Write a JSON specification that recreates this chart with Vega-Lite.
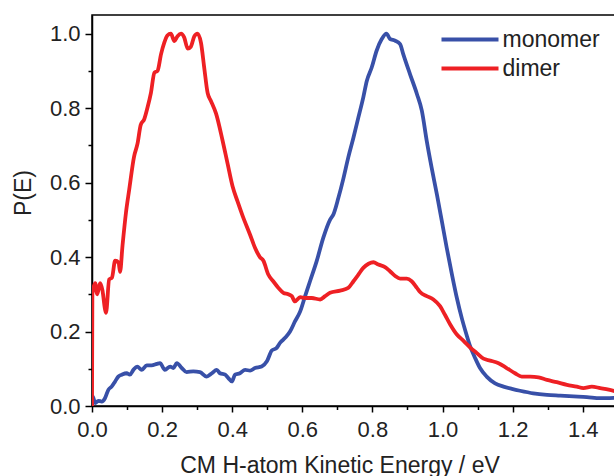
{
  "$schema": "https://vega.github.io/schema/vega-lite/v6.json",
  "width": 524,
  "height": 391,
  "autosize": {"type": "none"},
  "padding": {"left": 92, "top": 15, "right": 0, "bottom": 70},
  "background": "white",
  "config": {
    "font": "Liberation Sans",
    "view": {"stroke": "black", "strokeWidth": 1.5}
  },
  "data": {"values": [
    {"s":"monomer","E":0,"P":0},{"s":"monomer","E":0.002,"P":0.026},{"s":"monomer","E":0.009,"P":0.008},{"s":"monomer","E":0.018,"P":0.014},{"s":"monomer","E":0.028,"P":0.012},{"s":"monomer","E":0.037,"P":0.021},{"s":"monomer","E":0.047,"P":0.044},{"s":"monomer","E":0.056,"P":0.052},{"s":"monomer","E":0.066,"P":0.066},{"s":"monomer","E":0.075,"P":0.079},{"s":"monomer","E":0.085,"P":0.084},{"s":"monomer","E":0.099,"P":0.088},{"s":"monomer","E":0.108,"P":0.084},{"s":"monomer","E":0.118,"P":0.097},{"s":"monomer","E":0.129,"P":0.106},{"s":"monomer","E":0.142,"P":0.097},{"s":"monomer","E":0.156,"P":0.109},{"s":"monomer","E":0.170,"P":0.109},{"s":"monomer","E":0.185,"P":0.113},{"s":"monomer","E":0.194,"P":0.115},{"s":"monomer","E":0.208,"P":0.097},{"s":"monomer","E":0.223,"P":0.106},{"s":"monomer","E":0.232,"P":0.102},{"s":"monomer","E":0.242,"P":0.115},{"s":"monomer","E":0.256,"P":0.102},{"s":"monomer","E":0.270,"P":0.091},{"s":"monomer","E":0.289,"P":0.093},{"s":"monomer","E":0.308,"P":0.091},{"s":"monomer","E":0.327,"P":0.079},{"s":"monomer","E":0.342,"P":0.088},{"s":"monomer","E":0.356,"P":0.097},{"s":"monomer","E":0.365,"P":0.088},{"s":"monomer","E":0.380,"P":0.084},{"s":"monomer","E":0.389,"P":0.075},{"s":"monomer","E":0.399,"P":0.066},{"s":"monomer","E":0.408,"P":0.084},{"s":"monomer","E":0.422,"P":0.088},{"s":"monomer","E":0.437,"P":0.097},{"s":"monomer","E":0.451,"P":0.095},{"s":"monomer","E":0.465,"P":0.102},{"s":"monomer","E":0.484,"P":0.106},{"s":"monomer","E":0.499,"P":0.12},{"s":"monomer","E":0.513,"P":0.149},{"s":"monomer","E":0.527,"P":0.156},{"s":"monomer","E":0.537,"P":0.170},{"s":"monomer","E":0.551,"P":0.183},{"s":"monomer","E":0.565,"P":0.20},{"s":"monomer","E":0.579,"P":0.227},{"s":"monomer","E":0.594,"P":0.254},{"s":"monomer","E":0.608,"P":0.295},{"s":"monomer","E":0.622,"P":0.335},{"s":"monomer","E":0.641,"P":0.389},{"s":"monomer","E":0.660,"P":0.452},{"s":"monomer","E":0.679,"P":0.5},{"s":"monomer","E":0.689,"P":0.515},{"s":"monomer","E":0.703,"P":0.559},{"s":"monomer","E":0.717,"P":0.61},{"s":"monomer","E":0.731,"P":0.667},{"s":"monomer","E":0.746,"P":0.721},{"s":"monomer","E":0.760,"P":0.775},{"s":"monomer","E":0.774,"P":0.829},{"s":"monomer","E":0.784,"P":0.873},{"s":"monomer","E":0.798,"P":0.909},{"s":"monomer","E":0.812,"P":0.954},{"s":"monomer","E":0.827,"P":0.986},{"s":"monomer","E":0.840,"P":1.0},{"s":"monomer","E":0.850,"P":0.986},{"s":"monomer","E":0.865,"P":0.981},{"s":"monomer","E":0.879,"P":0.972},{"s":"monomer","E":0.888,"P":0.945},{"s":"monomer","E":0.907,"P":0.892},{"s":"monomer","E":0.927,"P":0.838},{"s":"monomer","E":0.941,"P":0.793},{"s":"monomer","E":0.955,"P":0.712},{"s":"monomer","E":0.969,"P":0.64},{"s":"monomer","E":0.984,"P":0.568},{"s":"monomer","E":0.998,"P":0.497},{"s":"monomer","E":1.012,"P":0.425},{"s":"monomer","E":1.027,"P":0.353},{"s":"monomer","E":1.041,"P":0.29},{"s":"monomer","E":1.055,"P":0.236},{"s":"monomer","E":1.069,"P":0.19},{"s":"monomer","E":1.079,"P":0.16},{"s":"monomer","E":1.093,"P":0.129},{"s":"monomer","E":1.107,"P":0.102},{"s":"monomer","E":1.126,"P":0.079},{"s":"monomer","E":1.15,"P":0.061},{"s":"monomer","E":1.174,"P":0.052},{"s":"monomer","E":1.198,"P":0.046},{"s":"monomer","E":1.221,"P":0.041},{"s":"monomer","E":1.259,"P":0.034},{"s":"monomer","E":1.298,"P":0.030},{"s":"monomer","E":1.336,"P":0.028},{"s":"monomer","E":1.374,"P":0.026},{"s":"monomer","E":1.412,"P":0.024},{"s":"monomer","E":1.45,"P":0.021},{"s":"monomer","E":1.495,"P":0.022},
    {"s":"dimer","E":0,"P":0},{"s":"dimer","E":0.001,"P":0.30},{"s":"dimer","E":0.009,"P":0.33},{"s":"dimer","E":0.015,"P":0.30},{"s":"dimer","E":0.023,"P":0.33},{"s":"dimer","E":0.030,"P":0.31},{"s":"dimer","E":0.037,"P":0.26},{"s":"dimer","E":0.040,"P":0.25},{"s":"dimer","E":0.049,"P":0.34},{"s":"dimer","E":0.057,"P":0.345},{"s":"dimer","E":0.066,"P":0.39},{"s":"dimer","E":0.076,"P":0.385},{"s":"dimer","E":0.080,"P":0.36},{"s":"dimer","E":0.087,"P":0.43},{"s":"dimer","E":0.097,"P":0.52},{"s":"dimer","E":0.106,"P":0.58},{"s":"dimer","E":0.120,"P":0.67},{"s":"dimer","E":0.130,"P":0.705},{"s":"dimer","E":0.139,"P":0.755},{"s":"dimer","E":0.149,"P":0.77},{"s":"dimer","E":0.158,"P":0.80},{"s":"dimer","E":0.168,"P":0.84},{"s":"dimer","E":0.178,"P":0.895},{"s":"dimer","E":0.187,"P":0.90},{"s":"dimer","E":0.197,"P":0.945},{"s":"dimer","E":0.206,"P":0.975},{"s":"dimer","E":0.215,"P":0.995},{"s":"dimer","E":0.225,"P":1.0},{"s":"dimer","E":0.235,"P":0.98},{"s":"dimer","E":0.244,"P":0.993},{"s":"dimer","E":0.254,"P":1.0},{"s":"dimer","E":0.263,"P":0.99},{"s":"dimer","E":0.273,"P":0.96},{"s":"dimer","E":0.282,"P":0.965},{"s":"dimer","E":0.292,"P":0.993},{"s":"dimer","E":0.301,"P":1.0},{"s":"dimer","E":0.311,"P":0.975},{"s":"dimer","E":0.320,"P":0.91},{"s":"dimer","E":0.330,"P":0.84},{"s":"dimer","E":0.339,"P":0.82},{"s":"dimer","E":0.354,"P":0.785},{"s":"dimer","E":0.372,"P":0.715},{"s":"dimer","E":0.387,"P":0.65},{"s":"dimer","E":0.401,"P":0.59},{"s":"dimer","E":0.415,"P":0.55},{"s":"dimer","E":0.430,"P":0.51},{"s":"dimer","E":0.451,"P":0.46},{"s":"dimer","E":0.465,"P":0.425},{"s":"dimer","E":0.479,"P":0.40},{"s":"dimer","E":0.489,"P":0.39},{"s":"dimer","E":0.503,"P":0.353},{"s":"dimer","E":0.517,"P":0.335},{"s":"dimer","E":0.532,"P":0.317},{"s":"dimer","E":0.546,"P":0.304},{"s":"dimer","E":0.560,"P":0.30},{"s":"dimer","E":0.570,"P":0.295},{"s":"dimer","E":0.579,"P":0.281},{"s":"dimer","E":0.594,"P":0.292},{"s":"dimer","E":0.608,"P":0.29},{"s":"dimer","E":0.627,"P":0.29},{"s":"dimer","E":0.651,"P":0.286},{"s":"dimer","E":0.665,"P":0.295},{"s":"dimer","E":0.679,"P":0.304},{"s":"dimer","E":0.708,"P":0.31},{"s":"dimer","E":0.731,"P":0.317},{"s":"dimer","E":0.746,"P":0.335},{"s":"dimer","E":0.760,"P":0.353},{"s":"dimer","E":0.774,"P":0.371},{"s":"dimer","E":0.789,"P":0.382},{"s":"dimer","E":0.803,"P":0.386},{"s":"dimer","E":0.817,"P":0.38},{"s":"dimer","E":0.836,"P":0.373},{"s":"dimer","E":0.850,"P":0.362},{"s":"dimer","E":0.865,"P":0.349},{"s":"dimer","E":0.879,"P":0.342},{"s":"dimer","E":0.898,"P":0.342},{"s":"dimer","E":0.912,"P":0.335},{"s":"dimer","E":0.927,"P":0.317},{"s":"dimer","E":0.936,"P":0.306},{"s":"dimer","E":0.955,"P":0.295},{"s":"dimer","E":0.974,"P":0.286},{"s":"dimer","E":0.993,"P":0.268},{"s":"dimer","E":1.007,"P":0.245},{"s":"dimer","E":1.022,"P":0.219},{"s":"dimer","E":1.041,"P":0.192},{"s":"dimer","E":1.060,"P":0.175},{"s":"dimer","E":1.079,"P":0.157},{"s":"dimer","E":1.098,"P":0.142},{"s":"dimer","E":1.117,"P":0.127},{"s":"dimer","E":1.136,"P":0.122},{"s":"dimer","E":1.160,"P":0.115},{"s":"dimer","E":1.183,"P":0.102},{"s":"dimer","E":1.207,"P":0.088},{"s":"dimer","E":1.226,"P":0.079},{"s":"dimer","E":1.25,"P":0.079},{"s":"dimer","E":1.274,"P":0.077},{"s":"dimer","E":1.298,"P":0.070},{"s":"dimer","E":1.326,"P":0.064},{"s":"dimer","E":1.355,"P":0.057},{"s":"dimer","E":1.383,"P":0.052},{"s":"dimer","E":1.402,"P":0.048},{"s":"dimer","E":1.426,"P":0.052},{"s":"dimer","E":1.45,"P":0.048},{"s":"dimer","E":1.474,"P":0.044},{"s":"dimer","E":1.495,"P":0.039}
  ]},
  "mark": {"type": "line", "strokeWidth": 3.8, "clip": true, "interpolate": "monotone"},
  "encoding": {
    "x": {
      "field": "E", "type": "quantitative",
      "scale": {"domain": [0, 1.495], "nice": false, "zero": false},
      "axis": {
        "title": "CM H-atom Kinetic Energy / eV",
        "values": [0, 0.1, 0.2, 0.3, 0.4, 0.5, 0.6, 0.7, 0.8, 0.9, 1.0, 1.1, 1.2, 1.3, 1.4],
        "labelExpr": "round(datum.value*10)%2==0 ? format(datum.value,'.1f') : ''",
        "grid": false,
        "tickSize": {"condition": {"test": "round(datum.value*10)%2==0", "value": 6}, "value": 3.5},
        "tickWidth": 1.5, "tickColor": "black",
        "domainColor": "black", "domainWidth": 1.5,
        "labelFontSize": 22, "labelColor": "#222", "labelPadding": 7,
        "labelOverlap": false, "labelFlush": false,
        "titleFontSize": 23, "titleFontWeight": "normal", "titleColor": "#222",
        "titleX": 247.5, "titleY": 66, "titleBaseline": "alphabetic", "titleAlign": "center"
      }
    },
    "y": {
      "field": "P", "type": "quantitative",
      "scale": {"domain": [0, 1.05], "nice": false, "zero": true},
      "axis": {
        "title": "P(E)",
        "values": [0, 0.1, 0.2, 0.3, 0.4, 0.5, 0.6, 0.7, 0.8, 0.9, 1.0],
        "labelExpr": "round(datum.value*10)%2==0 ? format(datum.value,'.1f') : ''",
        "grid": false,
        "tickSize": {"condition": {"test": "round(datum.value*10)%2==0", "value": 7}, "value": 4},
        "tickWidth": 1.5, "tickColor": "black",
        "domainColor": "black", "domainWidth": 1.5,
        "labelFontSize": 22, "labelColor": "#222", "labelPadding": 5,
        "labelOverlap": false, "labelFlush": false,
        "titleFontSize": 23, "titleFontWeight": "normal", "titleColor": "#222",
        "titleX": -57, "titleY": 177.5, "titleBaseline": "bottom", "titleAlign": "center", "titleAngle": -90
      }
    },
    "color": {
      "field": "s", "type": "nominal",
      "scale": {"domain": ["monomer", "dimer"], "range": ["#3850a8", "#ee2024"]},
      "legend": {
        "title": null, "orient": "none", "legendX": 366.5, "legendY": 13,
        "symbolType": "M-5,0H5", "symbolSize": 130, "symbolStrokeWidth": 4,
        "labelFontSize": 23, "labelColor": "#222", "labelOffset": 21, "rowPadding": 5,
        "padding": 0, "labelLimit": 0
      }
    }
  }
}
